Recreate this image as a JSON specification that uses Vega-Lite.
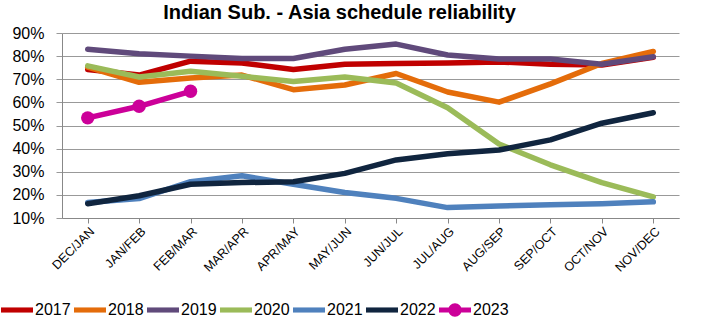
{
  "$schema": "https://vega.github.io/schema/vega-lite/v6.json",
  "autosize": "none",
  "width": 617,
  "height": 185,
  "padding": {"left": 62, "top": 33, "right": 24, "bottom": 109},
  "background": "white",
  "title": {
    "text": "Indian Sub. - Asia schedule reliability",
    "font": "Liberation Sans",
    "fontSize": 20,
    "fontWeight": "bold",
    "color": "#000000",
    "anchor": "middle",
    "dx": -31,
    "offset": 2
  },
  "config": {
    "view": {"stroke": null},
    "font": "Liberation Sans"
  },
  "data": {
    "values": [
      {"period": "DEC/JAN", "year": "2017", "value": 0.742},
      {"period": "JAN/FEB", "year": "2017", "value": 0.718},
      {"period": "FEB/MAR", "year": "2017", "value": 0.778},
      {"period": "MAR/APR", "year": "2017", "value": 0.770},
      {"period": "APR/MAY", "year": "2017", "value": 0.742},
      {"period": "MAY/JUN", "year": "2017", "value": 0.765},
      {"period": "JUN/JUL", "year": "2017", "value": 0.768},
      {"period": "JUL/AUG", "year": "2017", "value": 0.770},
      {"period": "AUG/SEP", "year": "2017", "value": 0.775},
      {"period": "SEP/OCT", "year": "2017", "value": 0.765},
      {"period": "OCT/NOV", "year": "2017", "value": 0.762},
      {"period": "NOV/DEC", "year": "2017", "value": 0.795},

      {"period": "DEC/JAN", "year": "2018", "value": 0.752},
      {"period": "JAN/FEB", "year": "2018", "value": 0.687},
      {"period": "FEB/MAR", "year": "2018", "value": 0.705},
      {"period": "MAR/APR", "year": "2018", "value": 0.718},
      {"period": "APR/MAY", "year": "2018", "value": 0.655},
      {"period": "MAY/JUN", "year": "2018", "value": 0.675},
      {"period": "JUN/JUL", "year": "2018", "value": 0.725},
      {"period": "JUL/AUG", "year": "2018", "value": 0.645},
      {"period": "AUG/SEP", "year": "2018", "value": 0.601},
      {"period": "SEP/OCT", "year": "2018", "value": 0.680},
      {"period": "OCT/NOV", "year": "2018", "value": 0.768},
      {"period": "NOV/DEC", "year": "2018", "value": 0.820},

      {"period": "DEC/JAN", "year": "2019", "value": 0.830},
      {"period": "JAN/FEB", "year": "2019", "value": 0.810},
      {"period": "FEB/MAR", "year": "2019", "value": 0.800},
      {"period": "MAR/APR", "year": "2019", "value": 0.790},
      {"period": "APR/MAY", "year": "2019", "value": 0.790},
      {"period": "MAY/JUN", "year": "2019", "value": 0.830},
      {"period": "JUN/JUL", "year": "2019", "value": 0.852},
      {"period": "JUL/AUG", "year": "2019", "value": 0.805},
      {"period": "AUG/SEP", "year": "2019", "value": 0.788},
      {"period": "SEP/OCT", "year": "2019", "value": 0.788},
      {"period": "OCT/NOV", "year": "2019", "value": 0.765},
      {"period": "NOV/DEC", "year": "2019", "value": 0.797},

      {"period": "DEC/JAN", "year": "2020", "value": 0.758},
      {"period": "JAN/FEB", "year": "2020", "value": 0.710},
      {"period": "FEB/MAR", "year": "2020", "value": 0.735},
      {"period": "MAR/APR", "year": "2020", "value": 0.713},
      {"period": "APR/MAY", "year": "2020", "value": 0.690},
      {"period": "MAY/JUN", "year": "2020", "value": 0.710},
      {"period": "JUN/JUL", "year": "2020", "value": 0.684},
      {"period": "JUL/AUG", "year": "2020", "value": 0.577},
      {"period": "AUG/SEP", "year": "2020", "value": 0.420},
      {"period": "SEP/OCT", "year": "2020", "value": 0.330},
      {"period": "OCT/NOV", "year": "2020", "value": 0.253},
      {"period": "NOV/DEC", "year": "2020", "value": 0.191},

      {"period": "DEC/JAN", "year": "2021", "value": 0.167},
      {"period": "JAN/FEB", "year": "2021", "value": 0.184},
      {"period": "FEB/MAR", "year": "2021", "value": 0.257},
      {"period": "MAR/APR", "year": "2021", "value": 0.283},
      {"period": "APR/MAY", "year": "2021", "value": 0.246},
      {"period": "MAY/JUN", "year": "2021", "value": 0.210},
      {"period": "JUN/JUL", "year": "2021", "value": 0.185},
      {"period": "JUL/AUG", "year": "2021", "value": 0.145},
      {"period": "AUG/SEP", "year": "2021", "value": 0.152},
      {"period": "SEP/OCT", "year": "2021", "value": 0.157},
      {"period": "OCT/NOV", "year": "2021", "value": 0.162},
      {"period": "NOV/DEC", "year": "2021", "value": 0.170},

      {"period": "DEC/JAN", "year": "2022", "value": 0.162},
      {"period": "JAN/FEB", "year": "2022", "value": 0.196},
      {"period": "FEB/MAR", "year": "2022", "value": 0.246},
      {"period": "MAR/APR", "year": "2022", "value": 0.253},
      {"period": "APR/MAY", "year": "2022", "value": 0.257},
      {"period": "MAY/JUN", "year": "2022", "value": 0.293},
      {"period": "JUN/JUL", "year": "2022", "value": 0.351},
      {"period": "JUL/AUG", "year": "2022", "value": 0.378},
      {"period": "AUG/SEP", "year": "2022", "value": 0.394},
      {"period": "SEP/OCT", "year": "2022", "value": 0.438},
      {"period": "OCT/NOV", "year": "2022", "value": 0.510},
      {"period": "NOV/DEC", "year": "2022", "value": 0.555},

      {"period": "DEC/JAN", "year": "2023", "value": 0.533},
      {"period": "JAN/FEB", "year": "2023", "value": 0.583},
      {"period": "FEB/MAR", "year": "2023", "value": 0.648}
    ]
  },
  "encoding": {
    "x": {
      "field": "period",
      "type": "nominal",
      "sort": ["DEC/JAN","JAN/FEB","FEB/MAR","MAR/APR","APR/MAY","MAY/JUN","JUN/JUL","JUL/AUG","AUG/SEP","SEP/OCT","OCT/NOV","NOV/DEC"],
      "scale": {"paddingInner": 0, "paddingOuter": 0},
      "axis": {
        "title": null,
        "bandPosition": 0,
        "labelOffset": 4,
        "labelAngle": -45,
        "labelAlign": "right",
        "labelBaseline": "middle",
        "labelFont": "Liberation Sans",
        "labelFontSize": 12.5,
        "labelColor": "#000000",
        "labelPadding": 6,
        "domainColor": "#888888",
        "domainWidth": 1,
        "tickColor": "#888888",
        "tickSize": 5,
        "grid": false
      }
    },
    "y": {
      "field": "value",
      "type": "quantitative",
      "scale": {"domain": [0.1, 0.9], "nice": false, "zero": false},
      "axis": {
        "title": null,
        "values": [0.1, 0.2, 0.3, 0.4, 0.5, 0.6, 0.7, 0.8, 0.9],
        "format": ".0%",
        "labelFont": "Liberation Sans",
        "labelFontSize": 16,
        "labelColor": "#000000",
        "labelPadding": 12,
        "domainColor": "#888888",
        "tickColor": "#999999",
        "tickSize": 6,
        "grid": true,
        "gridColor": "#999999",
        "gridWidth": 1
      }
    },
    "color": {
      "field": "year",
      "type": "nominal",
      "scale": {
        "domain": ["2017","2018","2019","2020","2021","2022","2023"],
        "range": ["#C00000","#E46C0A","#604A7B","#9BBB59","#4F81BD","#10253F","#CC0099"]
      },
      "legend": {
        "title": null,
        "orient": "none",
        "direction": "horizontal",
        "columns": 7,
        "legendX": -61,
        "legendY": 261,
        "symbolSize": 1024,
        "labelFont": "Liberation Sans",
        "labelFontSize": 16,
        "labelColor": "#000000",
        "labelOffset": 2,
        "columnPadding": 3,
        "encode": {
          "symbols": {
            "update": {
              "shape": {"signal": "datum.label == '2023' ? 'M-1,-0.16L1,-0.16L1,0.16L-1,0.16Z M0.42,0A0.42,0.42 0 1,1 -0.42,0A0.42,0.42 0 1,1 0.42,0Z' : 'M-1,-0.16L1,-0.16L1,0.16L-1,0.16Z'"},
              "fill": {"scale": "color", "field": "value"},
              "stroke": {"value": "transparent"},
              "strokeWidth": {"value": 0},
              "opacity": {"value": 1}
            }
          }
        }
      }
    }
  },
  "layer": [
    {
      "mark": {"type": "line", "strokeWidth": 5.5, "strokeJoin": "round", "strokeCap": "round"}
    },
    {
      "transform": [{"filter": "datum.year == '2023'"}],
      "mark": {"type": "point", "shape": "circle", "filled": true, "size": 180, "opacity": 1}
    }
  ]
}
